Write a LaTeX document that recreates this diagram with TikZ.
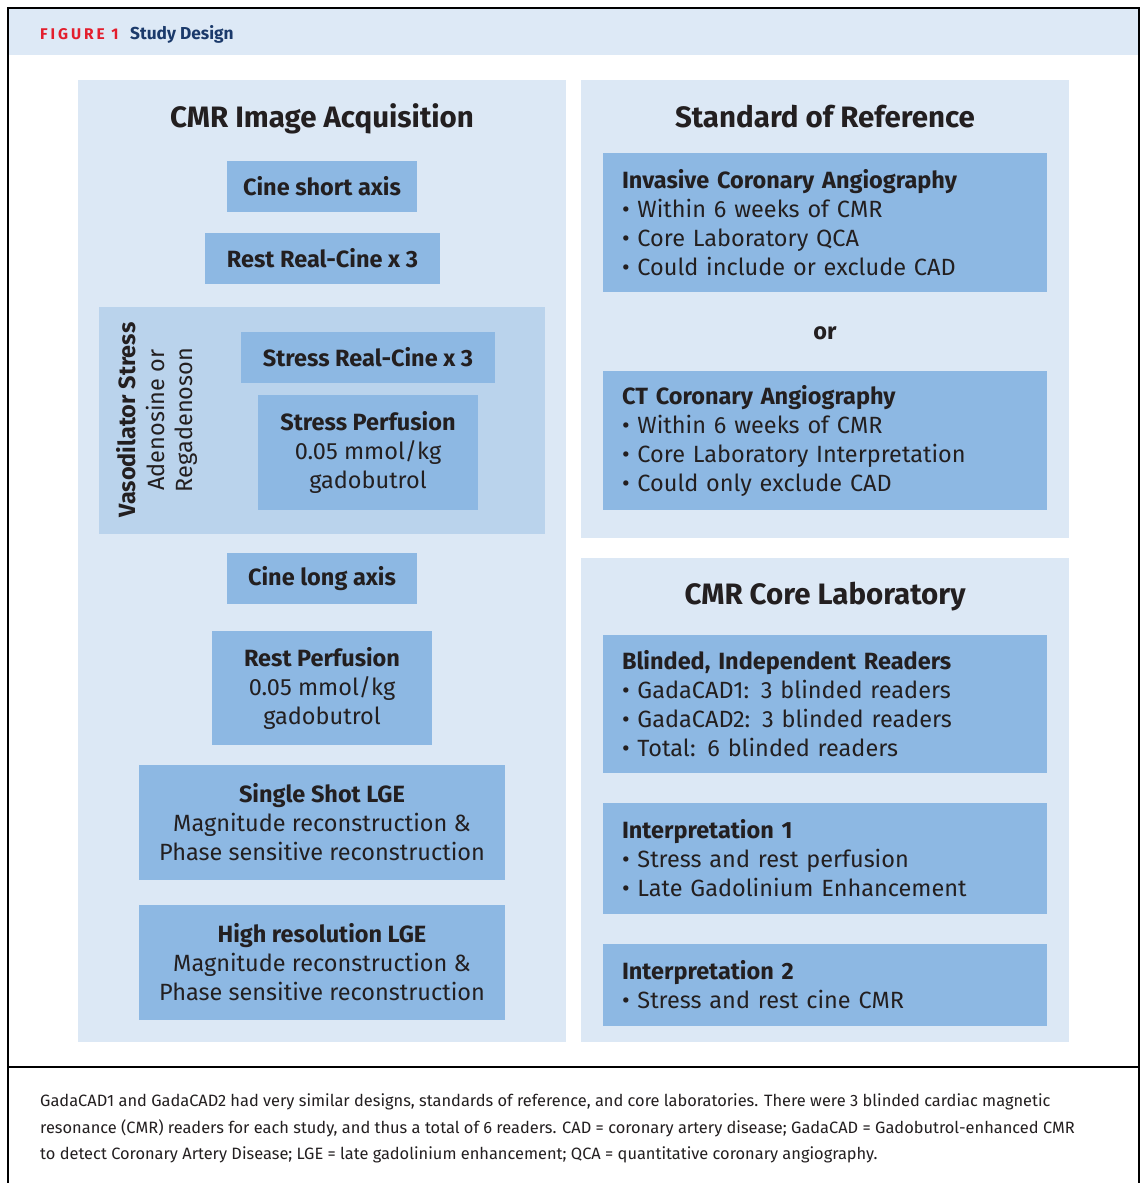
\documentclass[tikz,border=0pt]{standalone}
\usepackage{fontspec}
\setmainfont{Fira Sans}
\newfontfamily\capfont{Fira Sans}
\newfontfamily\figfont[LetterSpace=19]{Fira Sans}
\definecolor{hdr}{HTML}{DDE9F6}
\definecolor{panel}{HTML}{DCE8F5}
\definecolor{boxblue}{HTML}{8DB8E3}
\definecolor{vaso}{HTML}{BAD3EC}
\definecolor{ink}{HTML}{231F20}
\definecolor{navy}{HTML}{1B3A6B}
\definecolor{figred}{HTML}{E31E2D}
\tikzset{
  lbox/.style={fill=boxblue, inner sep=0pt, align=center, text=ink, font=\fontsize{23.5}{29}\selectfont},
  rbox/.style={fill=boxblue, inner xsep=19pt, inner ysep=0pt, text width=406pt, align=left, text=ink, minimum width=444pt, font=\fontsize{23.5}{29}\selectfont},
  ptitle/.style={text=ink, font=\fontsize{29.5}{32}\selectfont\bfseries, inner sep=0pt, anchor=base},
}
\begin{document}
\begin{tikzpicture}[x=1pt,y=-1pt]
\useasboundingbox (0,0) rectangle (1142,1183);
\fill[white] (0,0) rectangle (1142,1183);
% header
\fill[hdr] (8,8) rectangle (1139,55);
\node[anchor=base west, inner sep=0pt, text=figred, font=\figfont\fontsize{15.5}{16}\selectfont\bfseries] (fig) at (40,39) {FIGURE 1};
\node[anchor=base west, inner sep=0pt, text=navy, font=\fontsize{17.3}{18}\selectfont\bfseries] (title) at (130,39) {Study Design};
% frame
\draw[line width=1.8pt, black] (8,1183) -- (8,8) -- (1139,8) -- (1139,1183);
\draw[line width=1.8pt, black] (8,1067) -- (1139,1067);
% panels
\fill[panel] (78,80) rectangle (566,1042);
\fill[panel] (581,80) rectangle (1069,538);
\fill[panel] (581,558) rectangle (1069,1042);
\fill[vaso] (99,307) rectangle (545,534);
% titles
\node[ptitle] (t1) at (322,127.5) {CMR Image Acquisition};
\node[ptitle] (t2) at (825,127.5) {Standard of Reference};
\node[ptitle] (t3) at (825,604.5) {CMR Core Laboratory};
% left boxes
\node[lbox, minimum width=190pt, minimum height=51pt] (csa) at (322,186.5) {\bfseries Cine short axis};
\node[lbox, minimum width=235pt, minimum height=51pt] (rrc) at (322.5,258.5) {\bfseries Rest Real-Cine x 3};
\node[lbox, minimum width=254pt, minimum height=51pt] (src) at (368,357.5) {\bfseries Stress Real-Cine x 3};
\node[lbox, minimum width=220pt, minimum height=115pt] (sp) at (368,452.5) {\textbf{Stress Perfusion}\\0.05 mmol/kg\\gadobutrol};
\node[rotate=90, inner sep=0pt, align=center, text=ink, font=\fontsize{23.5}{28.5}\selectfont] (vs) at (157,420) {\textbf{Vasodilator Stress}\\Adenosine or\\Regadenoson};
\node[lbox, minimum width=190pt, minimum height=51pt] (cla) at (322,578.5) {\bfseries Cine long axis};
\node[lbox, minimum width=220pt, minimum height=114pt] (rp) at (322,688) {\textbf{Rest Perfusion}\\0.05 mmol/kg\\gadobutrol};
\node[lbox, minimum width=366pt, minimum height=115pt] (ss) at (322,822.5) {\textbf{Single Shot LGE}\\Magnitude reconstruction \&\\Phase sensitive reconstruction};
\node[lbox, minimum width=366pt, minimum height=115pt] (hr) at (322,962.5) {\textbf{High resolution LGE}\\Magnitude reconstruction \&\\Phase sensitive reconstruction};
% right boxes
\node[rbox, minimum height=139pt] (ica) at (825,222.5) {\textbf{Invasive Coronary Angiography}\\• Within 6 weeks of CMR\\• Core Laboratory QCA\\• Could include or exclude CAD};
\node[inner sep=0pt, anchor=base, text=ink, font=\fontsize{23.5}{29}\selectfont\bfseries] (or) at (825,339) {or};
\node[rbox, minimum height=139pt] (cta) at (825,440.5) {\textbf{CT Coronary Angiography}\\• Within 6 weeks of CMR\\• Core Laboratory Interpretation\\• Could only exclude CAD};
\node[rbox, minimum height=138pt] (bir) at (825,704) {\textbf{Blinded, Independent Readers}\\• GadaCAD1: 3 blinded readers\\• GadaCAD2: 3 blinded readers\\• Total: 6 blinded readers};
\node[rbox, minimum height=111pt] (i1) at (825,858.5) {\textbf{Interpretation 1}\\• Stress and rest perfusion\\• Late Gadolinium Enhancement};
\node[rbox, minimum height=82pt] (i2) at (825,985) {\textbf{Interpretation 2}\\• Stress and rest cine CMR};
% caption
\node[anchor=west, inner sep=0pt, align=left, text=ink, font=\capfont\fontsize{16.4}{26.5}\selectfont] (cap) at (40,1128.5) {GadaCAD1 and GadaCAD2 had very similar designs, standards of reference, and core laboratories. There were 3 blinded cardiac magnetic\\resonance (CMR) readers for each study, and thus a total of 6 readers. CAD = coronary artery disease; GadaCAD = Gadobutrol-enhanced CMR\\to detect Coronary Artery Disease; LGE = late gadolinium enhancement; QCA = quantitative coronary angiography.};
\end{tikzpicture}
\end{document}
